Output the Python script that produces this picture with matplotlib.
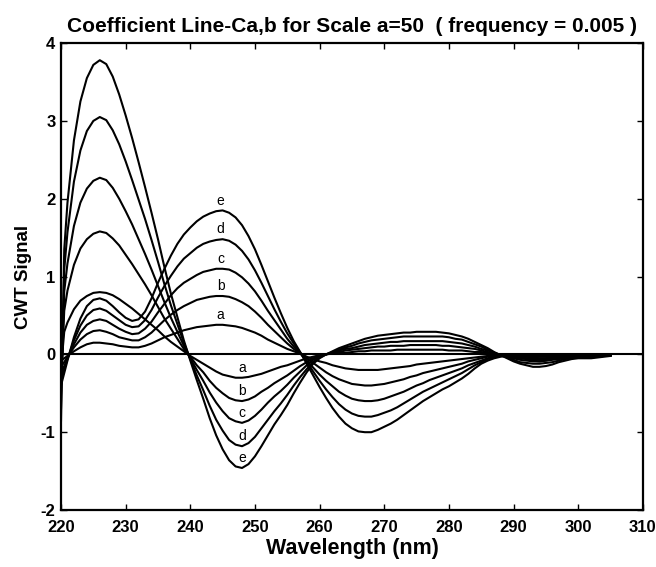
"""CWT coefficient lines Ca,b for scale a=50."""

import matplotlib
matplotlib.use("Agg")
import matplotlib.pyplot as plt
import numpy as np

plt.rcParams.update({
    "font.family": ["Liberation Sans", "DejaVu Sans"],
    "font.size": 11,
    "axes.unicode_minus": False,
    "figure.facecolor": "white",
    "axes.facecolor": "white",
})

# wavelength grid (nm): extra half step at the steep left edge
wavelength = np.concatenate([[220.0, 220.5], np.arange(221, 306)])

# family with the large peak at 226 nm (minimum labelled a..e near 248 nm)
dip_a = [-0.18, 0.29,
         0.41, 0.58, 0.69, 0.75, 0.79, 0.80, 0.79, 0.76, 0.71, 0.65,
         0.59, 0.52, 0.45, 0.38, 0.31, 0.23, 0.16, 0.10, 0.04, -0.02,
         -0.07, -0.12, -0.17, -0.22, -0.26, -0.28, -0.30, -0.30, -0.29, -0.27,
         -0.25, -0.22, -0.19, -0.16, -0.14, -0.11, -0.08, -0.05, -0.03, -0.01,
         0.00, 0.01, 0.02, 0.02, 0.03, 0.04, 0.04, 0.05, 0.05, 0.05,
         0.05, 0.06, 0.06, 0.06, 0.06, 0.06, 0.06, 0.06, 0.06, 0.05,
         0.05, 0.05, 0.04, 0.03, 0.03, 0.02, 0.01, 0.00, -0.01, -0.02,
         -0.03, -0.03, -0.03, -0.03, -0.03, -0.03, -0.02, -0.02, -0.02, -0.01,
         -0.01, -0.01, -0.01, -0.01, 0.00]
dip_b = [-0.36, 0.56,
         0.82, 1.15, 1.36, 1.48, 1.55, 1.58, 1.56, 1.49, 1.40, 1.28,
         1.16, 1.03, 0.90, 0.76, 0.61, 0.46, 0.33, 0.20, 0.07, -0.03,
         -0.14, -0.23, -0.34, -0.43, -0.50, -0.56, -0.59, -0.60, -0.58, -0.54,
         -0.48, -0.43, -0.37, -0.32, -0.27, -0.21, -0.15, -0.10, -0.05, -0.02,
         0.00, 0.02, 0.03, 0.05, 0.06, 0.07, 0.08, 0.09, 0.10, 0.10,
         0.11, 0.11, 0.11, 0.12, 0.12, 0.12, 0.12, 0.12, 0.11, 0.11,
         0.10, 0.09, 0.08, 0.07, 0.05, 0.03, 0.01, -0.01, -0.02, -0.04,
         -0.05, -0.06, -0.06, -0.06, -0.06, -0.05, -0.04, -0.03, -0.03, -0.02,
         -0.02, -0.02, -0.02, -0.01, -0.01]
dip_c = [-0.51, 0.81,
         1.17, 1.65, 1.95, 2.13, 2.23, 2.27, 2.24, 2.14, 2.00, 1.84,
         1.67, 1.48, 1.29, 1.09, 0.88, 0.67, 0.47, 0.29, 0.11, -0.05,
         -0.20, -0.34, -0.49, -0.62, -0.73, -0.82, -0.86, -0.88, -0.85, -0.79,
         -0.71, -0.62, -0.54, -0.47, -0.39, -0.30, -0.22, -0.14, -0.07, -0.03,
         0.00, 0.02, 0.05, 0.07, 0.08, 0.10, 0.12, 0.13, 0.14, 0.15,
         0.16, 0.16, 0.17, 0.17, 0.17, 0.17, 0.17, 0.17, 0.17, 0.16,
         0.15, 0.14, 0.12, 0.10, 0.07, 0.05, 0.02, -0.01, -0.03, -0.05,
         -0.07, -0.08, -0.09, -0.09, -0.08, -0.07, -0.06, -0.05, -0.04, -0.03,
         -0.03, -0.03, -0.02, -0.02, -0.01]
dip_d = [-0.69, 1.09,
         1.57, 2.22, 2.62, 2.87, 3.00, 3.05, 3.01, 2.88, 2.70, 2.48,
         2.24, 1.99, 1.74, 1.47, 1.19, 0.90, 0.63, 0.39, 0.15, -0.06,
         -0.27, -0.46, -0.66, -0.84, -0.98, -1.10, -1.16, -1.18, -1.14, -1.06,
         -0.95, -0.84, -0.73, -0.63, -0.52, -0.40, -0.29, -0.19, -0.10, -0.04,
         0.00, 0.03, 0.06, 0.09, 0.11, 0.14, 0.16, 0.18, 0.19, 0.20,
         0.21, 0.22, 0.23, 0.23, 0.23, 0.23, 0.23, 0.23, 0.23, 0.22,
         0.20, 0.19, 0.16, 0.13, 0.10, 0.06, 0.02, -0.01, -0.04, -0.07,
         -0.10, -0.11, -0.12, -0.12, -0.11, -0.10, -0.08, -0.06, -0.05, -0.04,
         -0.04, -0.04, -0.03, -0.02, -0.02]
dip_e = [-0.85, 1.35,
         1.95, 2.75, 3.25, 3.55, 3.72, 3.78, 3.73, 3.57, 3.34, 3.07,
         2.78, 2.47, 2.15, 1.82, 1.48, 1.12, 0.78, 0.48, 0.18, -0.08,
         -0.33, -0.57, -0.82, -1.04, -1.22, -1.36, -1.44, -1.46, -1.41, -1.31,
         -1.18, -1.04, -0.90, -0.78, -0.65, -0.50, -0.36, -0.23, -0.12, -0.05,
         0.00, 0.04, 0.08, 0.11, 0.14, 0.17, 0.20, 0.22, 0.24, 0.25,
         0.26, 0.27, 0.28, 0.28, 0.29, 0.29, 0.29, 0.29, 0.28, 0.27,
         0.25, 0.23, 0.20, 0.16, 0.12, 0.08, 0.03, -0.01, -0.05, -0.09,
         -0.12, -0.14, -0.16, -0.16, -0.15, -0.13, -0.10, -0.08, -0.06, -0.05,
         -0.05, -0.05, -0.04, -0.03, -0.02]

# family with the peak near 245 nm (labelled a..e)
peak_a = [-0.08, -0.05,
          -0.02, 0.04, 0.09, 0.13, 0.15, 0.15, 0.14, 0.13, 0.11, 0.10,
          0.09, 0.09, 0.11, 0.14, 0.18, 0.22, 0.25, 0.28, 0.31, 0.33,
          0.35, 0.36, 0.37, 0.38, 0.38, 0.37, 0.36, 0.34, 0.31, 0.28,
          0.24, 0.19, 0.15, 0.11, 0.07, 0.04, 0.01, -0.03, -0.06, -0.09,
          -0.11, -0.14, -0.16, -0.18, -0.19, -0.20, -0.20, -0.20, -0.20, -0.19,
          -0.18, -0.17, -0.16, -0.15, -0.13, -0.12, -0.11, -0.10, -0.09, -0.08,
          -0.07, -0.06, -0.05, -0.04, -0.03, -0.02, -0.01, -0.01, 0.00, 0.00,
          -0.01, -0.01, -0.01, -0.02, -0.02, -0.01, -0.01, -0.01, -0.01, -0.01,
          -0.01, -0.01, 0.00, 0.00, 0.00]
peak_b = [-0.16, -0.10,
          -0.03, 0.09, 0.19, 0.26, 0.30, 0.31, 0.29, 0.26, 0.22, 0.20,
          0.18, 0.18, 0.22, 0.28, 0.36, 0.44, 0.51, 0.57, 0.62, 0.66,
          0.70, 0.72, 0.74, 0.75, 0.75, 0.74, 0.71, 0.67, 0.62, 0.55,
          0.47, 0.38, 0.30, 0.22, 0.14, 0.07, 0.01, -0.05, -0.11, -0.17,
          -0.23, -0.28, -0.32, -0.35, -0.38, -0.39, -0.40, -0.40, -0.39, -0.38,
          -0.36, -0.34, -0.32, -0.29, -0.27, -0.24, -0.22, -0.20, -0.18, -0.16,
          -0.14, -0.12, -0.09, -0.07, -0.05, -0.03, -0.02, -0.01, -0.01, -0.01,
          -0.01, -0.02, -0.03, -0.03, -0.03, -0.03, -0.02, -0.02, -0.01, -0.01,
          -0.01, -0.01, -0.01, -0.01, 0.00]
peak_c = [-0.24, -0.15,
          -0.05, 0.13, 0.28, 0.38, 0.43, 0.45, 0.43, 0.38, 0.33, 0.29,
          0.26, 0.27, 0.33, 0.42, 0.54, 0.65, 0.76, 0.85, 0.92, 0.97,
          1.02, 1.06, 1.08, 1.10, 1.10, 1.09, 1.05, 0.99, 0.91, 0.81,
          0.69, 0.56, 0.44, 0.32, 0.20, 0.10, 0.02, -0.08, -0.17, -0.26,
          -0.34, -0.41, -0.48, -0.53, -0.57, -0.59, -0.60, -0.60, -0.59, -0.57,
          -0.54, -0.51, -0.48, -0.44, -0.40, -0.37, -0.33, -0.30, -0.27, -0.24,
          -0.21, -0.18, -0.14, -0.11, -0.08, -0.05, -0.03, -0.02, -0.01, -0.01,
          -0.02, -0.03, -0.04, -0.05, -0.05, -0.04, -0.03, -0.02, -0.02, -0.02,
          -0.02, -0.01, -0.01, -0.01, -0.01]
peak_d = [-0.32, -0.19,
          -0.06, 0.18, 0.37, 0.50, 0.57, 0.59, 0.56, 0.50, 0.44, 0.38,
          0.35, 0.36, 0.44, 0.57, 0.73, 0.88, 1.01, 1.13, 1.23, 1.30,
          1.37, 1.42, 1.45, 1.47, 1.48, 1.46, 1.41, 1.33, 1.22, 1.08,
          0.92, 0.75, 0.58, 0.42, 0.27, 0.14, 0.02, -0.10, -0.22, -0.34,
          -0.45, -0.55, -0.64, -0.71, -0.76, -0.79, -0.80, -0.80, -0.78, -0.75,
          -0.72, -0.68, -0.63, -0.58, -0.53, -0.48, -0.44, -0.40, -0.36, -0.32,
          -0.28, -0.24, -0.19, -0.14, -0.10, -0.06, -0.04, -0.02, -0.02, -0.02,
          -0.03, -0.05, -0.06, -0.07, -0.06, -0.05, -0.04, -0.03, -0.03, -0.02,
          -0.02, -0.02, -0.02, -0.01, -0.01]
peak_e = [-0.40, -0.24,
          -0.08, 0.22, 0.46, 0.62, 0.70, 0.72, 0.69, 0.62, 0.54, 0.47,
          0.43, 0.45, 0.55, 0.72, 0.92, 1.10, 1.27, 1.42, 1.54, 1.63,
          1.71, 1.77, 1.81, 1.84, 1.85, 1.82, 1.76, 1.66, 1.52, 1.35,
          1.15, 0.94, 0.73, 0.53, 0.34, 0.17, 0.03, -0.12, -0.27, -0.42,
          -0.56, -0.69, -0.80, -0.89, -0.95, -0.99, -1.00, -1.00, -0.97, -0.93,
          -0.89, -0.84, -0.78, -0.72, -0.66, -0.60, -0.55, -0.50, -0.45, -0.41,
          -0.36, -0.31, -0.25, -0.18, -0.12, -0.08, -0.05, -0.03, -0.02, -0.03,
          -0.04, -0.06, -0.08, -0.09, -0.08, -0.06, -0.04, -0.03, -0.03, -0.03,
          -0.03, -0.03, -0.02, -0.02, -0.01]

labels = ["a", "b", "c", "d", "e"]
dip_curves = [dip_a, dip_b, dip_c, dip_d, dip_e]
peak_curves = [peak_a, peak_b, peak_c, peak_d, peak_e]

fig = plt.figure(figsize=(6.56, 5.67), dpi=100)
ax = fig.add_axes([0.093, 0.1005, 0.887, 0.8235])

for curve in dip_curves + peak_curves:
    y = np.asarray(curve)
    assert len(y) == len(wavelength)
    ax.plot(wavelength, y, color="black", linewidth=1.5)

ax.axhline(0, color="black", linewidth=1.5)

# letters above the 245 nm maxima and inside the 248 nm minima
peak_x = wavelength[np.argmax(peak_e)]
dip_x = wavelength[np.argmin(dip_e)]
for lab, pk, dp in zip(labels, peak_curves, dip_curves):
    ax.annotate(lab, xy=(peak_x, max(pk)), xytext=(-1.5, 7),
                textcoords="offset points", ha="center", va="center", fontsize=10)
    ax.annotate(lab, xy=(dip_x, min(dp)), xytext=(0, 7),
                textcoords="offset points", ha="center", va="center", fontsize=10)

ax.set_xlim(220, 310)
ax.set_ylim(-2, 4)
ax.set_xticks(np.arange(220, 311, 10))
ax.set_yticks(np.arange(-2, 5, 1))
ax.tick_params(direction="in", length=4, width=1, top=True, right=True,
               labelsize=12, pad=4)
ax.tick_params(axis="x", pad=7)
for t in ax.get_xticklabels() + ax.get_yticklabels():
    t.set_fontweight("bold")
for sp in ax.spines.values():
    sp.set_linewidth(1.6)

ax.set_xlabel("Wavelength (nm)", fontsize=15.5, fontweight="bold", labelpad=2)
ax.set_ylabel("CWT Signal", fontsize=13.5, fontweight="bold", labelpad=6)
ax.set_title("Coefficient Line-Ca,b for Scale a=50  ( frequency = 0.005 )",
             fontsize=15, fontweight="bold", pad=8)

fig.savefig("out.png", dpi=100)
